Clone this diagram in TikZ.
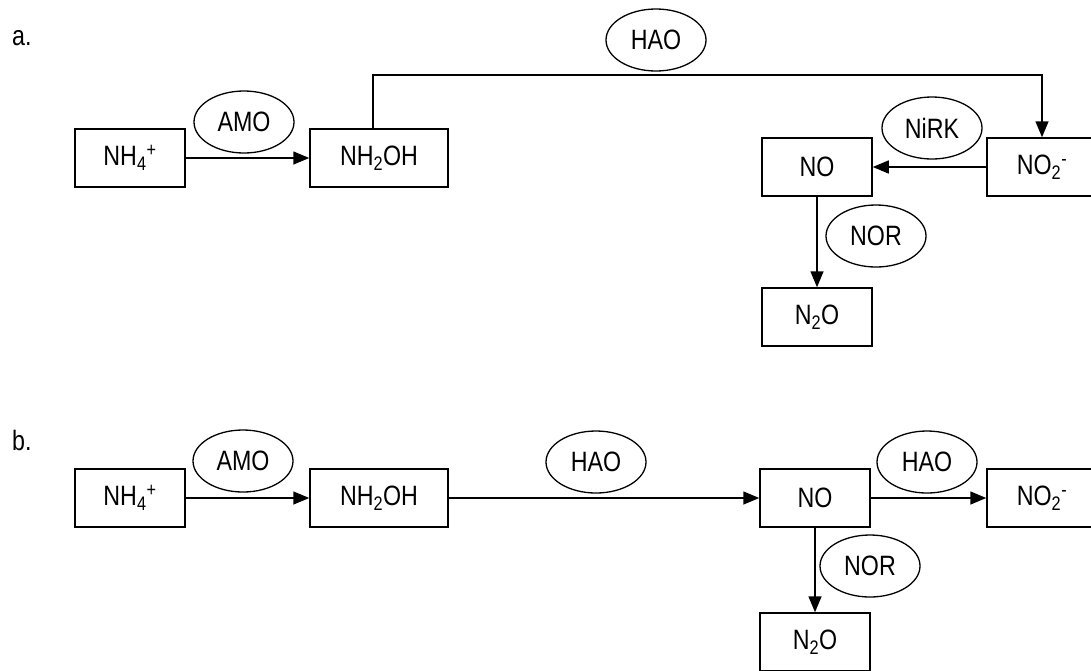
\documentclass[tikz,border=0pt]{standalone}
\usepackage{fontspec}
\setmainfont[FakeStretch=0.83]{Liberation Sans}
\usetikzlibrary{arrows.meta,shapes.geometric}
\begin{document}
\begin{tikzpicture}[x=1pt,y=-1pt,
  box/.style={draw,line width=1.5pt,minimum width=110pt,minimum height=58pt,inner sep=0pt,font=\fontsize{28}{32}\selectfont},
  enz/.style={draw,ellipse,line width=1.3pt,minimum width=100pt,minimum height=62pt,inner sep=0pt,font=\fontsize{28}{32}\selectfont},
  flow/.style={line width=1.5pt,-{Triangle[length=16pt,width=13pt]}},
  tag/.style={anchor=base west,inner sep=0pt,font=\fontsize{28}{32}\selectfont}]
\useasboundingbox (0,0) rectangle (1091,670);

% Panel a
\node[tag] (taga) at (12,45) {a.};
\node[box] (nh4a) at (130,158) {NH\textsubscript{4}\textsuperscript{+}};
\node[box,minimum width=138pt] (nh2oha) at (379,158) {NH\textsubscript{2}OH};
\node[box] (no2a) at (1042,167) {NO\textsubscript{2}\textsuperscript{-}};
\node[box] (noa) at (817,167) {NO};
\node[box] (n2oa) at (817,317) {N\textsubscript{2}O};

% enzymes a
\node[enz] (amoa) at (244,122) {AMO};
\node[enz] (haoa) at (656,40) {HAO};
\node[enz] (nirka) at (932,128) {NiRK};
\node[enz] (nora) at (876,236) {NOR};

% reactions a
\coordinate (topa) at (0,75);
\draw[flow] (nh4a) -- (nh2oha);
\draw[flow] ([xshift=-6pt]nh2oha.north) |- (topa -| no2a) -- (no2a.north);
\draw[flow] (no2a) -- (noa);
\draw[flow] (noa) -- (n2oa);

% Panel b
\node[tag] (tagb) at (12,450) {b.};
\node[box] (nh4b) at (130,498) {NH\textsubscript{4}\textsuperscript{+}};
\node[box,minimum width=138pt] (nh2ohb) at (379,498) {NH\textsubscript{2}OH};
\node[box] (nob) at (815,498) {NO};
\node[box] (no2b) at (1042,498) {NO\textsubscript{2}\textsuperscript{-}};
\node[box] (n2ob) at (815,642) {N\textsubscript{2}O};

% enzymes b
\node[enz] (amob) at (243,461) {AMO};
\node[enz] (haob) at (596,462) {HAO};
\node[enz] (haoc) at (927,462) {HAO};
\node[enz] (norb) at (870,566) {NOR};

% reactions b
\draw[flow] (nh4b) -- (nh2ohb);
\draw[flow] (nh2ohb) -- (nob);
\draw[flow] (nob) -- (no2b);
\draw[flow] (nob) -- (n2ob);
\end{tikzpicture}
\end{document}
